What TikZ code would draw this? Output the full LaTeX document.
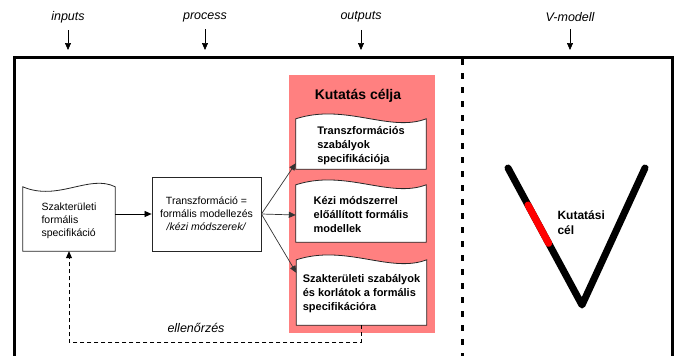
\documentclass[tikz,border=0pt]{standalone}
\usepackage{fontspec}
\setmainfont{Liberation Sans}
\usetikzlibrary{arrows.meta, calc, backgrounds, positioning}
\definecolor{goalpink}{RGB}{255,128,128}

% wavy top outline of a document node: name, first and second control offset
\newcommand\docwave[3]{%
  \draw[docline] (#1.south west) -- ([yshift=3pt]#1.north west)
    .. controls ($([yshift=3pt]#1.north west)!0.38!([yshift=3pt]#1.north east)+(0pt,#2)$)
    and ($([yshift=3pt]#1.north west)!0.72!([yshift=3pt]#1.north east)+(0pt,#3)$)
    .. ([yshift=3pt]#1.north east) -- (#1.south east) -- cycle;}

\begin{document}
\begin{tikzpicture}[x=1pt, y=-1pt,
    lbl/.style={font=\fontsize{12.5}{14}\selectfont\itshape},
    arr/.style={-{Triangle[length=7pt, width=6pt]}, line width=0.7pt},
    docbox/.style={rectangle, inner sep=2pt, align=left, font=\fontsize{10.5}{13}\selectfont},
    outbox/.style={docbox, minimum width=130pt, font=\fontsize{11}{14}\selectfont\bfseries},
    docline/.style={draw=black!85, line width=0.8pt, fill=white},
    fb/.style={dash pattern=on 4pt off 3pt, line width=0.8pt}]
    \useasboundingbox (0,0) rectangle (675,356);

    % column headings
    \foreach \px/\txt [count=\i] in {68/inputs, 205/process, 361/outputs, 570/V-modell} {
        \node[lbl] (head\i) at (\px,17) {\txt};
        \coordinate (tip\i) at (\px,50);
        \draw[arr] ([yshift=-4pt]head\i.south) -- (tip\i);
    }

    % frame
    \draw[line width=3pt] (14,356) -- (14,57) -- (672,57) -- (672,356);
    \draw[line width=3pt, dash pattern=on 6pt off 8pt] (462,59) -- (462,356);

    % flow
    \node[docbox, minimum width=92pt, minimum height=61pt] (spec) at (69,220.5) {Szakter\"uleti\\form\'alis\\specifik\'aci\'o};
    \node[docbox, draw=black!85, line width=0.8pt, align=center, minimum width=109pt, minimum height=74pt] (proc) at (206.5,214)
        {Transzform\'aci\'o =\\form\'alis modellez\'es\\\textit{/k\'ezi m\'odszerek/}};

    \node[font=\fontsize{14}{16}\selectfont\bfseries] (goal) at (358,96) {Kutat\'as c\'elja};
    \node[outbox, minimum height=47pt] (out1) at (361,145.5) {Transzform\'aci\'os\\szab\'alyok\\specifik\'aci\'oja};
    \node[outbox, minimum height=54pt] (out2) at (361,215) {K\'ezi m\'odszerrel\\el\H{o}\'all\'itott form\'alis\\modellek};
    \node[outbox, minimum height=62pt] (out3) at (361.5,294) {Szakter\"uleti szab\'alyok\\\'es korl\'atok a form\'alis\\specifik\'aci\'ora};

    \begin{scope}[on background layer]
        \fill[goalpink] (289,75) rectangle (435,333);
        \docwave{spec}{-15pt}{13pt}
        \docwave{out1}{16pt}{-14pt}
        \docwave{out2}{16pt}{-14pt}
        \docwave{out3}{16pt}{-14pt}
    \end{scope}

    \draw[arr] (spec.east |- proc.west) -- (proc.west);
    \draw[arr, black!80] (proc.east) -- ([yshift=6pt]out1.south west);
    \draw[arr, black!80] (proc.east) -- (out2.west);
    \draw[arr, black!80] (proc.east) -- ([yshift=-10pt]out3.north west);

    % feedback
    \coordinate (fbk) at (0,342);
    \draw[fb, -{Triangle[length=7pt, width=6pt]}] (out3.south) -- (out3.south |- fbk) -| (spec.south);
    \node[lbl] (check) at (196,328) {ellen\H{o}rz\'es};

    % V-modell
    \coordinate (vl) at (508,168);
    \coordinate (vb) at (582,305);
    \coordinate (vr) at (645,168);
    \draw[line width=7pt, line cap=round, line join=round] (vl) -- (vb) -- (vr);
    \draw[red, line width=7pt, line cap=round] ($(vl)!0.27!(vb)$) -- ($(vl)!0.55!(vb)$);
    \node[font=\fontsize{12}{15}\selectfont\bfseries, align=left, anchor=west] (vtext) at (554,223) {Kutat\'asi\\c\'el};
\end{tikzpicture}
\end{document}
